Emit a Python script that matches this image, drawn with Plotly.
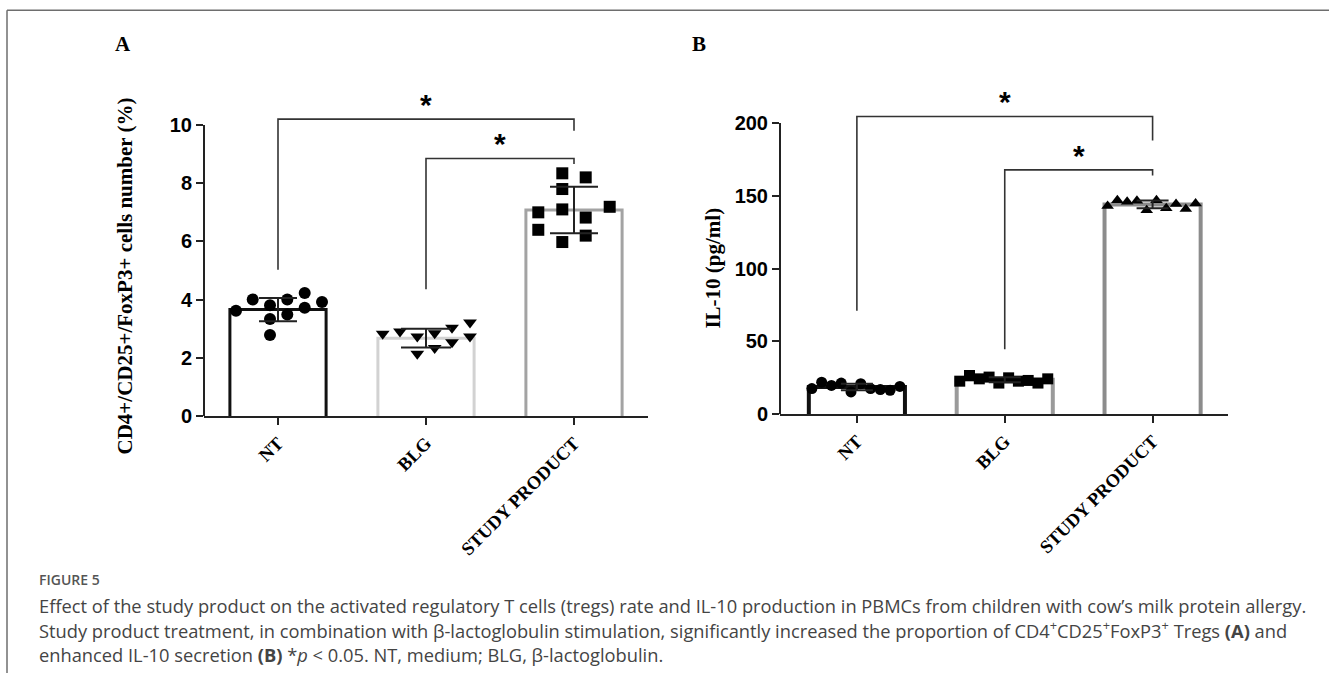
import numpy as np
import plotly.graph_objects as go

# ---------------- data ----------------
categories = ["NT", "BLG", "STUDY PRODUCT"]

# Panel A: CD4+/CD25+/FoxP3+ cells number (%)
a_nt = [3.62, 4.01, 3.81, 3.34, 2.79, 4.01, 3.49, 4.23, 3.72, 3.92]
a_blg = [2.83, 2.91, 2.74, 2.14, 2.85, 2.34, 3.04, 2.54, 3.22, 2.74]
a_sp = [7.00, 6.40, 8.34, 7.80, 7.10, 5.98, 8.20, 6.82, 6.20, 7.19]
a_mean = [3.66, 2.68, 7.08]
a_sd = [0.40, 0.32, 0.80]

# Panel B: IL-10 (pg/ml)
b_nt = [17.6, 22.0, 19.8, 21.4, 15.3, 21.0, 17.6, 16.9, 16.4, 19.1]
b_blg = [22.7, 26.6, 24.3, 25.5, 21.4, 25.0, 22.7, 23.2, 21.4, 24.3]
b_sp = [143.0, 147.0, 146.0, 146.6, 140.0, 147.0, 141.4, 144.4, 141.0, 144.8]
b_mean = [18.7, 23.7, 144.1]
b_sd = [2.2, 1.7, 2.6]

a_ticks = [0, 2, 4, 6, 8, 10]
b_ticks = [0, 50, 100, 150, 200]

# significance brackets: (left cat, right cat, left foot, top, right foot)
a_brackets = [(0, 2, 5.03, 10.2, 9.8), (1, 2, 4.36, 8.85, 8.66)]
b_brackets = [(0, 2, 71, 204.5, 188), (1, 2, 44.6, 167.8, 164)]

caption_title = "FIGURE 5"
caption_lines = [
    "Effect of the study product on the activated regulatory T cells (tregs) rate and IL-10 production in PBMCs from children with cow\u2019s milk protein allergy.",
    "Study product treatment, in combination with \u03b2-lactoglobulin stimulation, significantly increased the proportion of CD4<sup>+</sup>CD25<sup>+</sup>FoxP3<sup>+</sup> Tregs <b>(A)</b> and",
    "enhanced IL-10 secretion <b>(B)</b> *<i>p</i> &lt; 0.05. NT, medium; BLG, \u03b2-lactoglobulin.",
]

# ---------------- layout constants (pixels) ----------------
W, H = 1329, 684
A_X = (204, 648)
B_X = (780, 1228)
A_XRANGE = [-0.5, 2.5]
B_XRANGE = [-0.52, 2.51]
A_Y0, A_YPX = 423, 29.6      # pixel of zero, px per unit
B_Y0, B_YPX = 421, 1.48
A_YMAX, B_YMAX = 11, 220
BAR_W = 0.65

# beeswarm offsets in pixels
a_off = [
    [-42, -25.3, -8, -8, -8, 9.3, 9.3, 26.7, 26.7, 44],
    [-43.3, -26, -8.7, -8.7, 8.7, 8.7, 26, 26, 44, 44],
    [-35.7, -35.7, -11.7, -11.7, -11.7, -11.7, 11.7, 11.7, 11.7, 35.7],
]
b_off = [list(np.linspace(-45, 43, 10))] * 3

a_bar_colors = ["#111111", "#d2d2d2", "#a3a3a3"]
b_bar_colors = ["#111111", "#9a9a9a", "#8c8c8c"]
a_symbols = ["circle", "triangle-down", "square"]
b_symbols = ["circle", "square", "triangle-up"]

fig = go.Figure()


def add_panel(xa, ya, xpx, xrange, vals, mean, sd, offs, bar_colors, symbols,
              msize, lw, capw):
    ppc = (xpx[1] - xpx[0]) / (xrange[1] - xrange[0])
    # open bars (no bottom edge), drawn from the mean values
    for i in range(3):
        h = BAR_W / 2
        fig.add_trace(go.Scatter(
            x=[i - h, i - h, i + h, i + h], y=[0, mean[i], mean[i], 0],
            mode="lines", xaxis=xa, yaxis=ya,
            line=dict(color=bar_colors[i], width=lw),
            showlegend=False, hoverinfo="skip"))
    for i in range(3):
        xs = [i + o / ppc for o in offs[i]]
        fig.add_trace(go.Scatter(
            x=xs, y=vals[i], mode="markers", xaxis=xa, yaxis=ya,
            marker=dict(symbol=symbols[i], size=msize, color="black",
                        line=dict(width=0)),
            showlegend=False, cliponaxis=False))
    for i in range(3):
        fig.add_trace(go.Scatter(
            x=[i], y=[mean[i]], mode="markers", xaxis=xa, yaxis=ya,
            marker=dict(size=1, color="rgba(0,0,0,0)"),
            error_y=dict(type="data", array=[sd[i]], color="#222222",
                         thickness=2, width=capw[i]),
            showlegend=False))


add_panel("x", "y", A_X, A_XRANGE, [a_nt, a_blg, a_sp], a_mean, a_sd, a_off,
          a_bar_colors, a_symbols, 12, 3, [19, 25, 24])
add_panel("x2", "y2", B_X, B_XRANGE, [b_nt, b_blg, b_sp], b_mean, b_sd, b_off,
          b_bar_colors, b_symbols, 11, 4, [16, 16, 16])


def ydom(y0, ypx, ymax):
    return [1 - y0 / H, 1 - (y0 - ymax * ypx) / H]


xax_common = dict(
    tickmode="array", tickvals=[0, 1, 2], ticktext=categories, tickangle=-45,
    showline=True, linecolor="#222222", linewidth=2, ticks="outside",
    ticklen=7, tickwidth=2, tickcolor="#222222", showgrid=False, zeroline=False,
    tickfont=dict(family="Liberation Serif", size=18.5, color="black", weight="bold"),
    fixedrange=True,
)
yax_common = dict(
    showline=False, ticks="outside", ticklen=7, tickwidth=2, tickcolor="#222222",
    showgrid=False, zeroline=False, tickmode="array",
    tickfont=dict(family="Liberation Sans", size=20, color="black", weight="bold"),
    fixedrange=True,
)

fig.update_layout(
    width=W, height=H, margin=dict(l=0, r=0, t=0, b=0),
    paper_bgcolor="white", plot_bgcolor="rgba(0,0,0,0)",
    xaxis=dict(domain=[A_X[0] / W, A_X[1] / W], range=A_XRANGE, anchor="y", **xax_common),
    yaxis=dict(domain=ydom(A_Y0, A_YPX, A_YMAX), range=[0, A_YMAX], anchor="x",
               tickvals=a_ticks, **yax_common),
    xaxis2=dict(domain=[B_X[0] / W, B_X[1] / W], range=B_XRANGE, anchor="y2", **xax_common),
    yaxis2=dict(domain=ydom(B_Y0, B_YPX, B_YMAX), range=[0, B_YMAX], anchor="x2",
                tickvals=b_ticks, **yax_common),
)

shapes = []
# y axis lines (0 .. top tick)
shapes.append(dict(type="line", xref="x domain", yref="y", x0=0, x1=0, y0=0,
                   y1=a_ticks[-1], line=dict(color="#222222", width=2)))
shapes.append(dict(type="line", xref="x2 domain", yref="y2", x0=0, x1=0, y0=0,
                   y1=b_ticks[-1], line=dict(color="#222222", width=2)))

annotations = []
for (xr, yr, brs) in [("x", "y", a_brackets), ("x2", "y2", b_brackets)]:
    for (c0, c1, yl, yt, yrr) in brs:
        shapes.append(dict(type="path", xref=xr, yref=yr,
                           path=f"M {c0},{yl} L {c0},{yt} L {c1},{yt} L {c1},{yrr}",
                           line=dict(color="#333333", width=1.6)))
        annotations.append(dict(xref=xr, yref=yr, x=(c0 + c1) / 2, y=yt, text="*",
                                showarrow=False, yanchor="bottom", yshift=-4,
                                font=dict(family="Liberation Sans", size=30,
                                          color="black", weight="bold")))

# frame lines
shapes.append(dict(type="line", xref="paper", yref="paper", x0=7 / W, x1=1,
                   y0=1 - 10.5 / H, y1=1 - 10.5 / H, line=dict(color="#6e6e6e", width=1.5)))
shapes.append(dict(type="line", xref="paper", yref="paper", x0=7 / W, x1=7 / W,
                   y0=0, y1=1 - 10.5 / H, line=dict(color="#6e6e6e", width=1.5)))

# panel letters
for txt, xp in [("A", 123), ("B", 699)]:
    annotations.append(dict(xref="paper", yref="paper", x=xp / W, y=1 - 45 / H,
                            text=txt, showarrow=False, xanchor="center", yanchor="middle",
                            font=dict(family="Liberation Serif", size=21, color="black",
                                      weight="bold")))

# y axis titles
annotations.append(dict(xref="paper", yref="paper", x=125 / W, y=1 - 281 / H,
                        text="CD4+/CD25+/FoxP3+ cells number (%)", textangle=-90,
                        showarrow=False, xanchor="center", yanchor="middle",
                        font=dict(family="Liberation Serif", size=21, color="black",
                                  weight="bold")))
annotations.append(dict(xref="paper", yref="paper", x=713 / W, y=1 - 273 / H,
                        text="IL-10 (pg/ml)", textangle=-90,
                        showarrow=False, xanchor="center", yanchor="middle",
                        font=dict(family="Liberation Serif", size=21, color="black",
                                  weight="bold")))

# caption
annotations.append(dict(xref="paper", yref="paper", x=37 / W, y=1 - 589 / H,
                        text=caption_title, showarrow=False, xanchor="left",
                        yanchor="middle",
                        font=dict(family="Open Sans", size=14, color="#555555",
                                  weight=600)))
for k, line in enumerate(caption_lines):
    annotations.append(dict(xref="paper", yref="paper", x=37 / W,
                            y=1 - (615 + 25 * k) / H, text=line, showarrow=False,
                            xanchor="left", yanchor="middle",
                            font=dict(family="Open Sans", size=18.3, color="#444444")))

fig.update_layout(shapes=shapes, annotations=annotations)
fig.write_html("out.html", config={"displayModeBar": False})
